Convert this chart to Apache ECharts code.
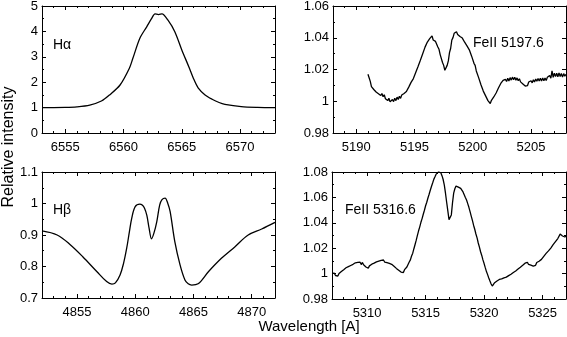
<!DOCTYPE html>
<html>
<head>
<meta charset="utf-8">
<script src="https://cdn.jsdelivr.net/npm/echarts@6/dist/echarts.min.js"></script>
<style>
    html, body { margin: 0; padding: 0; background: #fff; }
    #echart_show { width: 567px; height: 337px; }
</style>
</head>
<body>
<div id="echart_show"></div>
<script>
// H alpha profile
var ha_wave = [6553.0, 6554.0, 6555.0, 6556.0, 6557.1, 6558.1, 6558.8, 6559.7, 6560.5, 6560.8,
    6561.4, 6562.0, 6562.4, 6562.7, 6563.0, 6563.3, 6563.8, 6564.4, 6565.0, 6565.6,
    6566.0, 6566.4, 6567.0, 6567.6, 6568.2, 6568.7, 6570.1, 6571.5, 6573.0];
var ha_flux = [1.00, 1.00, 1.005, 1.03, 1.10, 1.26, 1.50, 1.89, 2.55, 2.94,
    3.73, 4.19, 4.50, 4.69, 4.66, 4.69, 4.45, 3.99, 3.27, 2.61,
    2.15, 1.78, 1.50, 1.33, 1.20, 1.13, 1.04, 1.01, 1.00];

// H beta profile
var hb_wave = [4852.0, 4853.3, 4854.4, 4855.5, 4856.7, 4857.55, 4858.0, 4858.3, 4858.7, 4859.0,
    4859.27, 4859.5, 4859.7, 4860.0, 4860.4, 4860.6, 4860.8, 4861.0, 4861.2, 4861.4,
    4861.6, 4861.85, 4862.1, 4862.3, 4862.56, 4862.8, 4863.0, 4863.4, 4863.85, 4864.27,
    4864.55, 4864.85, 4865.4, 4866.3, 4867.4, 4868.57, 4869.7, 4870.86, 4872.0];
var hb_flux = [0.913, 0.900, 0.870, 0.831, 0.784, 0.752, 0.744, 0.748, 0.773, 0.810,
    0.858, 0.910, 0.953, 0.990, 0.998, 0.995, 0.985, 0.962, 0.920, 0.888,
    0.905, 0.942, 0.995, 1.012, 1.017, 1.000, 0.974, 0.879, 0.805, 0.757,
    0.745, 0.741, 0.745, 0.784, 0.826, 0.863, 0.900, 0.919, 0.940];

// FeII 5197.6, sampled every 0.1 A from 5191.0
var fe1_start = 5191.0;
var fe1_step = 0.1;
var fe1_flux = [
    1.0170, 1.0148, 1.0125, 1.0092, 1.0098, 1.0074, 1.0081, 1.0058, 1.0069, 1.0047, // 5191
    1.0058, 1.0036, 1.0049, 1.0028, 1.0041, 1.0016, 1.0027, 1.0004, 1.0019, 0.9996, // 5192
    0.9988, 1.0011, 0.9998, 1.0019, 1.0004, 1.0026, 1.0011, 1.0031, 1.0018, 1.0039, // 5193
    1.0027, 1.0049, 1.0038, 1.0061, 1.0057, 1.0089, 1.0087, 1.0119, 1.0114, 1.0143, // 5194
    1.0146, 1.0181, 1.0183, 1.0219, 1.0222, 1.0258, 1.0263, 1.0299, 1.0302, 1.0341, // 5195
    1.0346, 1.0373, 1.0366, 1.0394, 1.0384, 1.0412, 1.0386, 1.0398, 1.0377, 1.0383, // 5196
    1.0342, 1.0327, 1.0294, 1.0286, 1.0244, 1.0226, 1.0195, 1.0188, 1.0226, 1.0254, // 5197
    1.0306, 1.0334, 1.0386, 1.0401, 1.0428, 1.0424, 1.0438, 1.0421, 1.0426, 1.0408, // 5198
    1.0416, 1.0398, 1.0396, 1.0372, 1.0376, 1.0349, 1.0346, 1.0324, 1.0329, 1.0284, // 5199
    1.0276, 1.0239, 1.0226, 1.0191, 1.0181, 1.0149, 1.0141, 1.0104, 1.0096, 1.0064, // 5200
    1.0061, 1.0034, 1.0031, 1.0004, 1.0003, 0.9986, 1.0006, 1.0004, 1.0027, 1.0024, // 5201
    1.0052, 1.0054, 1.0083, 1.0084, 1.0112, 1.0108, 1.0131, 1.0119, 1.0138, 1.0124, // 5202
    1.0145, 1.0127, 1.0149, 1.0133, 1.0152, 1.0136, 1.0151, 1.0133, 1.0147, 1.0129, // 5203
    1.0142, 1.0122, 1.0131, 1.0109, 1.0117, 1.0096, 1.0108, 1.0099, 1.0121, 1.0109, // 5204
    1.0129, 1.0116, 1.0135, 1.0121, 1.0140, 1.0126, 1.0143, 1.0127, 1.0145, 1.0128, // 5205
    1.0146, 1.0129, 1.0147, 1.0130, 1.0151, 1.0139, 1.0162, 1.0145, 1.0192, 1.0150, // 5206
    1.0177, 1.0155, 1.0176, 1.0154, 1.0178, 1.0156, 1.0175, 1.0152, 1.0174, 1.0158, // 5207
    1.0170
];

// FeII 5316.6, sampled every 0.1 A from 5307.0
var fe2_start = 5307.0;
var fe2_step = 0.1;
var fe2_flux = [
    1.0002, 0.9991, 1.0003, 0.9985, 0.9994, 0.9981, 1.0001, 0.9995, 1.0017, 1.0009, // 5307
    1.0031, 1.0024, 1.0046, 1.0036, 1.0055, 1.0043, 1.0064, 1.0052, 1.0073, 1.0061, // 5308
    1.0085, 1.0072, 1.0089, 1.0074, 1.0090, 1.0071, 1.0088, 1.0069, 1.0072, 1.0052, // 5309
    1.0056, 1.0043, 1.0061, 1.0055, 1.0074, 1.0063, 1.0082, 1.0071, 1.0092, 1.0079, // 5310
    1.0098, 1.0085, 1.0104, 1.0090, 1.0107, 1.0091, 1.0101, 1.0086, 1.0097, 1.0080, // 5311
    1.0092, 1.0073, 1.0079, 1.0058, 1.0063, 1.0041, 1.0049, 1.0027, 1.0035, 1.0012, // 5312
    1.0023, 1.0008, 1.0031, 1.0029, 1.0052, 1.0063, 1.0091, 1.0108, 1.0139, 1.0161, // 5313
    1.0196, 1.0229, 1.0263, 1.0301, 1.0337, 1.0368, 1.0404, 1.0433, 1.0467, 1.0499, // 5314
    1.0534, 1.0562, 1.0595, 1.0625, 1.0656, 1.0686, 1.0713, 1.0742, 1.0762, 1.0783, // 5315
    1.0792, 1.0801, 1.0797, 1.0794, 1.0771, 1.0741, 1.0697, 1.0633, 1.0562, 1.0494, // 5316
    1.0425, 1.0418, 1.0462, 1.0558, 1.0634, 1.0668, 1.0689, 1.0693, 1.0681, 1.0685, // 5317
    1.0671, 1.0669, 1.0643, 1.0628, 1.0599, 1.0579, 1.0551, 1.0522, 1.0488, 1.0453, // 5318
    1.0419, 1.0381, 1.0349, 1.0312, 1.0281, 1.0241, 1.0209, 1.0172, 1.0143, 1.0108, // 5319
    1.0079, 1.0047, 1.0016, 0.9992, 0.9966, 0.9941, 0.9918, 0.9902, 0.9914, 0.9928, // 5320
    0.9921, 0.9942, 0.9936, 0.9954, 0.9941, 0.9958, 0.9944, 0.9966, 0.9951, 0.9972, // 5321
    0.9961, 0.9984, 0.9972, 0.9995, 0.9986, 1.0009, 0.9998, 1.0021, 1.0012, 1.0036, // 5322
    1.0027, 1.0050, 1.0041, 1.0065, 1.0056, 1.0082, 1.0071, 1.0089, 1.0072, 1.0084, // 5323
    1.0066, 1.0078, 1.0059, 1.0074, 1.0065, 1.0087, 1.0076, 1.0097, 1.0089, 1.0112, // 5324
    1.0108, 1.0136, 1.0131, 1.0159, 1.0152, 1.0179, 1.0174, 1.0201, 1.0196, 1.0228, // 5325
    1.0221, 1.0252, 1.0249, 1.0276, 1.0274, 1.0311, 1.0302, 1.0296, 1.0301, 1.0288, // 5326
    1.0294
];

// tick labels
var ha_xticks = [6555, 6560, 6565, 6570];
var fe1_xticks = [5190, 5195, 5200, 5205];
var hb_xticks = [4855, 4860, 4865, 4870];
var fe2_xticks = [5310, 5315, 5320, 5325];

var FONT = '"Liberation Sans", Arial, Helvetica, sans-serif';

var pairs = function (xs, ys) {
    var res = [];
    for (var i = 0; i < ys.length; i++) res.push([xs[i], ys[i]]);
    return res;
};
var sampled = function (start, step, ys) {
    var res = [];
    for (var i = 0; i < ys.length; i++) {
        res.push([Math.round((start + i * step) * 100) / 100, ys[i]]);
    }
    return res;
};

var panels = [
    {grid: {left: 42, top: 6, width: 233, height: 127}, data: pairs(ha_wave, ha_flux), smooth: 0.3,
        xMin: 6553, xMax: 6573, xTicks: ha_xticks, yMin: 0, yMax: 5, yStep: 1, width: 1.3},
    {grid: {left: 333, top: 6, width: 233, height: 127}, data: sampled(fe1_start, fe1_step, fe1_flux), smooth: false,
        xMin: 5188, xMax: 5208, xTicks: fe1_xticks, yMin: 0.98, yMax: 1.06, yStep: 0.02, width: 1.3},
    {grid: {left: 42, top: 172, width: 233, height: 126}, data: pairs(hb_wave, hb_flux), smooth: 0.35,
        xMin: 4852, xMax: 4872, xTicks: hb_xticks, yMin: 0.7, yMax: 1.1, yStep: 0.1, width: 1.3},
    {grid: {left: 332, top: 172, width: 234, height: 127}, data: sampled(fe2_start, fe2_step, fe2_flux), smooth: false,
        xMin: 5307, xMax: 5327, xTicks: fe2_xticks, yMin: 0.98, yMax: 1.08, yStep: 0.02, width: 1.3}
];

var init_echarts = function () {
    var chart = echarts.init(document.getElementById('echart_show'));
    var grids = [], xAxes = [], yAxes = [], series = [];

    panels.forEach(function (p, i) {
        grids.push({left: p.grid.left, top: p.grid.top, width: p.grid.width, height: p.grid.height,
            containLabel: false, outerBoundsMode: 'none'});

        // major x axes (bottom with labels, top without)
        ['bottom', 'top'].forEach(function (pos) {
            xAxes.push({
                type: 'value', gridIndex: i, position: pos, min: p.xMin, max: p.xMax,
                axisLine: {show: true, onZero: false, lineStyle: {color: '#000', width: 1}},
                axisTick: {show: true, inside: true, length: 4, customValues: p.xTicks, lineStyle: {color: '#000'}},
                axisLabel: {show: pos === 'bottom', customValues: p.xTicks, color: '#000', fontSize: 13,
                    fontFamily: FONT, margin: 8, formatter: function (v) { return String(v); }},
                splitLine: {show: false}
            });
        });
        // minor x ticks every 1 A
        ['bottom', 'top'].forEach(function (pos) {
            xAxes.push({
                type: 'value', gridIndex: i, position: pos, min: p.xMin, max: p.xMax, interval: 1,
                axisLine: {show: false, onZero: false},
                axisTick: {show: true, inside: true, length: 2, lineStyle: {color: '#000'}},
                axisLabel: {show: false},
                splitLine: {show: false}
            });
        });
        ['left', 'right'].forEach(function (pos) {
            yAxes.push({
                type: 'value', gridIndex: i, position: pos, min: p.yMin, max: p.yMax, interval: p.yStep,
                axisLine: {show: true, onZero: false, lineStyle: {color: '#000', width: 1}},
                axisTick: {show: true, inside: true, length: 4, lineStyle: {color: '#000'}},
                minorTick: {show: true, splitNumber: 2, length: 2, lineStyle: {color: '#000'}},
                axisLabel: {show: pos === 'left', color: '#000', fontSize: 13, fontFamily: FONT, margin: 4,
                    formatter: function (v) { return String(Math.round(v * 1000) / 1000); }},
                splitLine: {show: false}
            });
        });

        series.push({
            type: 'line', xAxisIndex: i * 4, yAxisIndex: i * 2,
            data: p.data, smooth: p.smooth, showSymbol: false, symbol: 'none',
            lineStyle: {color: '#000', width: p.width}, animation: false
        });
    });

    var txt = function (x, y, text, size, align, rot) {
        return {
            type: 'text', x: x, y: y, rotation: rot || 0,
            style: {text: text, fill: '#000', font: size + 'px ' + FONT,
                textAlign: align || 'left', textVerticalAlign: 'middle'}
        };
    };

    chart.setOption({
        animation: false,
        grid: grids,
        xAxis: xAxes,
        yAxis: yAxes,
        series: series,
        graphic: [
            txt(53, 45, 'Hα', 14),
            txt(53, 210, 'Hβ', 14),
            txt(473, 43, 'FeII 5197.6', 14),
            txt(345, 210, 'FeII 5316.6', 14),
            txt(309, 327, 'Wavelength [A]', 15, 'center'),
            txt(9, 147, 'Relative intensity', 16, 'center', Math.PI / 2)
        ]
    });
};

init_echarts();
</script>
</body>
</html>
